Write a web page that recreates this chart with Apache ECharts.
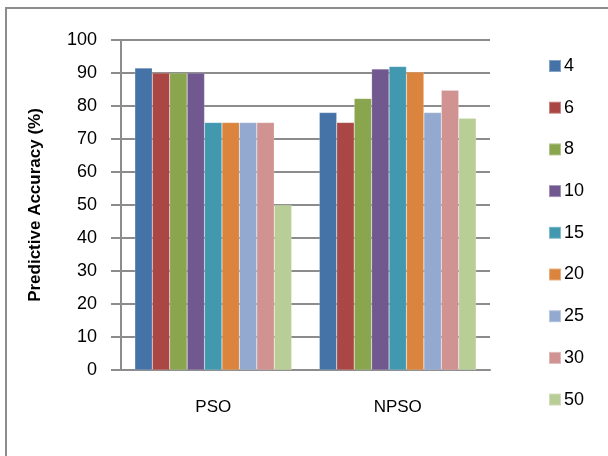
<!DOCTYPE html>
<html><head><meta charset="utf-8">
<script src="https://cdn.jsdelivr.net/npm/echarts@6/dist/echarts.min.js"></script>
<style>html,body{margin:0;padding:0;background:#fff}#c{width:608px;height:456px}</style>
</head><body><div id="c"></div>
<script>
var categories = ['PSO', 'NPSO'];
var seriesNames = ['4', '6', '8', '10', '15', '20', '25', '30', '50'];
var s4 = [91.5, 78];
var s6 = [90, 75];
var s8 = [90, 82.3];
var s10 = [90, 91.2];
var s15 = [75, 92];
var s20 = [75, 90.3];
var s25 = [75, 78];
var s30 = [75, 84.8];
var s50 = [50, 76.3];
var yTicks = [0, 10, 20, 30, 40, 50, 60, 70, 80, 90, 100];
var values = [s4, s6, s8, s10, s15, s20, s25, s30, s50];
var colors = ['#4572A7', '#AA4643', '#89A54E', '#71588F', '#4198AF', '#DB843D', '#93A9CF', '#D19392', '#B9CD96'];

var chart = echarts.init(document.getElementById('c'));
var font = 'Liberation Sans, Arial, sans-serif';
chart.setOption({
  animation: false,
  color: colors,
  graphic: [{
    type: 'rect', shape: {x: 6, y: 8, width: 640, height: 500},
    style: {fill: 'none', stroke: '#8c8c8c', lineWidth: 2}, silent: true, z: -10
  }],
  grid: {left: 121, right: 118, top: 40, bottom: 86},
  legend: {
    orient: 'vertical', left: 548, top: 57, padding: 0, itemWidth: 12, itemHeight: 12, itemGap: 23.7,
    icon: 'rect', data: seriesNames,
    textStyle: {fontSize: 18, fontFamily: font, color: '#000', padding: [0, 0, 0, -2]}
  },
  xAxis: {
    type: 'category', data: categories,
    axisLine: {lineStyle: {color: '#8c8c8c', width: 2}},
    axisTick: {show: false},
    axisLabel: {fontSize: 17, fontFamily: font, color: '#000', margin: 29}
  },
  yAxis: {
    type: 'value', min: yTicks[0], max: yTicks[yTicks.length - 1], interval: 10,
    name: 'Predictive Accuracy (%)', nameLocation: 'middle', nameGap: 77,
    nameTextStyle: {fontSize: 17, fontWeight: 'bold', fontFamily: font, color: '#000'},
    axisLine: {show: true, lineStyle: {color: '#8c8c8c', width: 2}},
    axisTick: {show: true, length: 10, lineStyle: {color: '#8c8c8c', width: 2}},
    axisLabel: {fontSize: 18, fontFamily: font, color: '#000', margin: 24},
    splitLine: {lineStyle: {color: '#8c8c8c', width: 2}}
  },
  series: seriesNames.map(function (n, i) {
    return {
      name: n, type: 'bar', data: values[i], barGap: '0%', barCategoryGap: '15%',
      itemStyle: {borderColor: 'rgba(255,255,255,0.35)', borderWidth: 0.5}
    };
  })
});
</script></body></html>
